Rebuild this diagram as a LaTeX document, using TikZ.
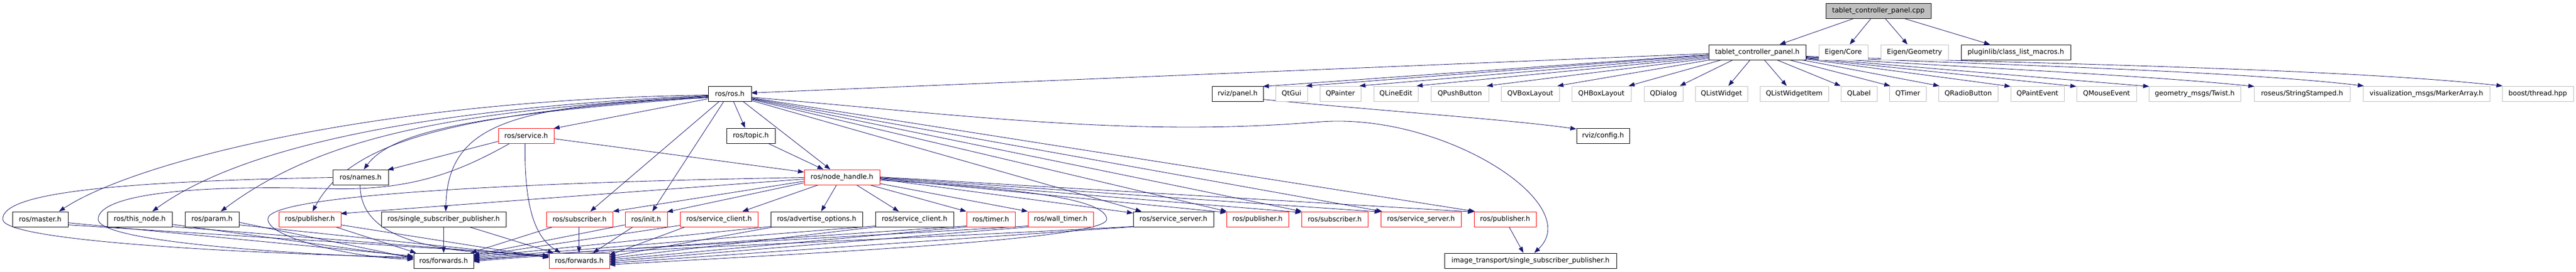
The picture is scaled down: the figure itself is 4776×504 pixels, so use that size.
\documentclass[tikz,border=0pt]{standalone}
\usepackage{fontspec}
\setmainfont{DejaVu Sans}
\usetikzlibrary{arrows.meta}
\definecolor{eb}{RGB}{25,25,112}
\definecolor{gb}{RGB}{191,191,191}
\pgfdeclarelayer{edges}
\pgfsetlayers{edges,main}
\begin{document}
\begin{tikzpicture}[x=1pt,y=-1pt,
  box/.style={draw=black, line width=1pt, rectangle, minimum height=28pt, inner sep=0pt, fill=white, font=\fontsize{12.6}{15}\selectfont},
  rbox/.style={box, draw=red},
  gbox/.style={box, draw=gb},
  rootbox/.style={box, fill=gb},
  dep/.style={draw=eb, line width=0.85pt, -{Triangle[length=11pt,width=8pt]}},
]
\useasboundingbox (0,0) rectangle (4776,504);
% row 0
\node[rootbox, minimum width=195pt] (cpp) at (3482.5,20) {tablet\_controller\_panel.cpp};
% row 1
\node[box, minimum width=180pt] (tch) at (3258,97) {tablet\_controller\_panel.h};
\node[gbox, minimum width=91pt] (ecore) at (3417.5,97) {Eigen/Core};
\node[gbox, minimum width=125pt] (egeom) at (3549.5,97) {Eigen/Geometry};
\node[box, minimum width=203pt] (plugin) at (3737.5,97) {pluginlib/class\_list\_macros.h};
% row 2
\node[box, minimum width=80pt] (rosh) at (1353,174) {ros/ros.h};
\node[box, minimum width=95pt] (panel) at (2294.5,174) {rviz/panel.h};
\node[gbox, minimum width=59pt] (qtgui) at (2394.5,174) {QtGui};
\node[gbox, minimum width=76pt] (qpainter) at (2485,174) {QPainter};
\node[gbox, minimum width=82pt] (qlineedit) at (2588,174) {QLineEdit};
\node[gbox, minimum width=107pt] (qpush) at (2706.5,174) {QPushButton};
\node[gbox, minimum width=108pt] (qvbox) at (2837,174) {QVBoxLayout};
\node[gbox, minimum width=110pt] (qhbox) at (2969,174) {QHBoxLayout};
\node[gbox, minimum width=72pt] (qdialog) at (3084,174) {QDialog};
\node[gbox, minimum width=97pt] (qlistw) at (3191.5,174) {QListWidget};
\node[gbox, minimum width=127pt] (qlistwi) at (3326.5,174) {QListWidgetItem};
\node[gbox, minimum width=67pt] (qlabel) at (3446.5,174) {QLabel};
\node[gbox, minimum width=68pt] (qtimer) at (3537,174) {QTimer};
\node[gbox, minimum width=110pt] (qradio) at (3649,174) {QRadioButton};
\node[gbox, minimum width=99pt] (qpaint) at (3777.5,174) {QPaintEvent};
\node[gbox, minimum width=111pt] (qmouse) at (3905.5,174) {QMouseEvent};
\node[gbox, minimum width=170pt] (twist) at (4069,174) {geometry\_msgs/Twist.h};
\node[gbox, minimum width=178pt] (strst) at (4268,174) {roseus/StringStamped.h};
\node[gbox, minimum width=235pt] (marker) at (4498.5,174) {visualization\_msgs/MarkerArray.h};
\node[gbox, minimum width=132pt] (boost) at (4705,174) {boost/thread.hpp};
% row 3
\node[rbox, minimum width=103pt] (service) at (975.5,252) {ros/service.h};
\node[box, minimum width=90pt] (topic) at (1392,252) {ros/topic.h};
\node[box, minimum width=98pt] (config) at (2972,252) {rviz/config.h};
% row 4
\node[box, minimum width=103pt] (names) at (668.5,329) {ros/names.h};
\node[rbox, minimum width=140pt] (nh) at (1561,329) {ros/node\_handle.h};
% row 5
\node[box, minimum width=103pt] (master) at (74.5,407) {ros/master.h};
\node[box, minimum width=120pt] (thisnode) at (259,407) {ros/this\_node.h};
\node[box, minimum width=100pt] (param) at (393,407) {ros/param.h};
\node[rbox, minimum width=115pt] (pub1) at (574.5,407) {ros/publisher.h};
\node[box, minimum width=231pt] (ssp) at (822.5,407) {ros/single\_subscriber\_publisher.h};
\node[rbox, minimum width=123pt] (sub1) at (1074.5,407) {ros/subscriber.h};
\node[rbox, minimum width=78pt] (init) at (1198,407) {ros/init.h};
\node[rbox, minimum width=144pt] (scr) at (1333,407) {ros/service\_client.h};
\node[box, minimum width=170pt] (adv) at (1514,407) {ros/advertise\_options.h};
\node[box, minimum width=145pt] (scb) at (1695.5,407) {ros/service\_client.h};
\node[rbox, minimum width=90pt] (timer) at (1837,407) {ros/timer.h};
\node[rbox, minimum width=121pt] (wtimer) at (1966.5,407) {ros/wall\_timer.h};
\node[box, minimum width=149pt] (ssb) at (2175.5,407) {ros/service\_server.h};
\node[rbox, minimum width=115pt] (pub2) at (2331.5,407) {ros/publisher.h};
\node[rbox, minimum width=123pt] (sub2) at (2474.5,407) {ros/subscriber.h};
\node[rbox, minimum width=149pt] (ssr) at (2634.5,407) {ros/service\_server.h};
\node[rbox, minimum width=115pt] (pub3) at (2790.5,407) {ros/publisher.h};
% row 6
\node[box, minimum width=111pt] (fwdB) at (822.5,484) {ros/forwards.h};
\node[rbox, minimum width=112pt] (fwdR) at (1074,484) {ros/forwards.h};
\node[box, minimum width=319pt] (itssp) at (2837.5,484) {image\_transport/single\_subscriber\_publisher.h};

\begin{pgfonlayer}{edges}
% cpp
\draw[dep] ([shift={(55,28)}]cpp.north west) -- ([shift={(132,0)}]tch.north west);
\draw[dep] ([shift={(85,28)}]cpp.north west) -- ([shift={(58,0)}]ecore.north west);
\draw[dep] ([shift={(110,28)}]cpp.north west) -- ([shift={(50,0)}]egeom.north west);
\draw[dep] ([shift={(143,28)}]cpp.north west) -- ([shift={(54,0)}]plugin.north west);
% tablet_controller_panel.h
\draw[dep] ([shift={(0,17)}]tch.north west) -- ([shift={(80,13)}]rosh.north west);
\draw[dep] ([shift={(0,19)}]tch.north west) -- ([shift={(95,1)}]panel.north west);
\draw[dep] ([shift={(0,20)}]tch.north west) -- ([shift={(57,0)}]qtgui.north west);
\draw[dep] ([shift={(0,22)}]tch.north west) -- ([shift={(74,0)}]qpainter.north west);
\draw[dep] ([shift={(0,24)}]tch.north west) -- ([shift={(80,0)}]qlineedit.north west);
\draw[dep] ([shift={(0,26)}]tch.north west) -- ([shift={(104,0)}]qpush.north west);
\draw[dep] ([shift={(7,28)}]tch.north west) -- ([shift={(105,0)}]qvbox.north west);
\draw[dep] ([shift={(27,28)}]tch.north west) -- ([shift={(106,0)}]qhbox.north west);
\draw[dep] ([shift={(47,28)}]tch.north west) -- ([shift={(67,0)}]qdialog.north west);
\draw[dep] ([shift={(78,28)}]tch.north west) -- ([shift={(62,0)}]qlistw.north west);
\draw[dep] ([shift={(103,28)}]tch.north west) -- ([shift={(50,0)}]qlistwi.north west);
\draw[dep] ([shift={(125,28)}]tch.north west) -- ([shift={(0,0)}]qlabel.north west);
\draw[dep] ([shift={(147,28)}]tch.north west) -- ([shift={(2,0)}]qtimer.north west);
\draw[dep] ([shift={(169,28)}]tch.north west) -- ([shift={(2,0)}]qradio.north west);
\draw[dep] ([shift={(180,27)}]tch.north west) -- ([shift={(0,1)}]qpaint.north west);
\draw[dep] ([shift={(180,26)}]tch.north west) -- ([shift={(0,1)}]qmouse.north west);
\draw[dep] ([shift={(180,25)}]tch.north west) -- ([shift={(1,1)}]twist.north west);
\draw[dep] ([shift={(180,24)}]tch.north west) .. controls (3650,125) and (3980,140) .. ([shift={(1,1)}]strst.north west);
\draw[dep] ([shift={(180,23)}]tch.north west) .. controls (3700,120) and (4150,132) .. ([shift={(2,0)}]marker.north west);
\draw[dep] ([shift={(180,22)}]tch.north west) .. controls (3800,118) and (4350,128) .. ([shift={(1,0)}]boost.north west);
% rviz/panel.h
\draw[dep] ([shift={(95,25)}]panel.north west) .. controls (2550,205) and (2800,222) .. ([shift={(0,2)}]config.north west);
% ros/ros.h to the left
\draw[dep] ([shift={(0,17)}]rosh.north west) .. controls (700,185) and (250,300) .. ([shift={(87,0)}]master.north west);
\draw[dep] ([shift={(0,18)}]rosh.north west) .. controls (800,200) and (450,270) .. ([shift={(84,0)}]thisnode.north west);
\draw[dep] ([shift={(0,19)}]rosh.north west) .. controls (850,205) and (600,250) .. ([shift={(67,0)}]param.north west);
\draw[dep] ([shift={(0,20)}]rosh.north west) .. controls (850,210) and (650,260) .. ([shift={(63,0)}]pub1.north west);
\draw[dep] ([shift={(0,21)}]rosh.north west) .. controls (900,212) and (730,240) .. ([shift={(58,0)}]names.north west);
\draw[dep] ([shift={(0,22)}]rosh.north west) .. controls (950,195) and (830,230) .. ([shift={(120,0)}]ssp.north west);
\draw[dep] ([shift={(0,24)}]rosh.north west) -- ([shift={(103,1)}]service.north west);
% ros/ros.h downwards
\draw[dep] ([shift={(22,28)}]rosh.north west) -- ([shift={(82,0)}]sub1.north west);
\draw[dep] ([shift={(30,28)}]rosh.north west) -- ([shift={(51,0)}]init.north west);
\draw[dep] ([shift={(47,28)}]rosh.north west) -- ([shift={(35,0)}]topic.north west);
\draw[dep] ([shift={(64,28)}]rosh.north west) -- ([shift={(49,0)}]nh.north west);
% ros/ros.h to the right
\draw[dep] ([shift={(80,21)}]rosh.north west) .. controls (1800,215) and (2100,255) .. (2450,226) .. controls (2680,210) and (2940,380) .. ([shift={(167,0)}]itssp.north west);
\draw[dep] ([shift={(80,22)}]rosh.north west) -- ([shift={(2,0)}]pub3.north west);
\draw[dep] ([shift={(80,23)}]rosh.north west) -- ([shift={(3,0)}]ssr.north west);
\draw[dep] ([shift={(80,24)}]rosh.north west) -- ([shift={(1,0)}]sub2.north west);
\draw[dep] ([shift={(80,25)}]rosh.north west) -- ([shift={(1,0)}]pub2.north west);
\draw[dep] ([shift={(80,27)}]rosh.north west) -- ([shift={(16,0)}]ssb.north west);
% topic, service
\draw[dep] ([shift={(76,28)}]topic.north west) -- ([shift={(36,0)}]nh.north west);
\draw[dep] ([shift={(103,20)}]service.north west) -- ([shift={(0,5)}]nh.north west);
\draw[dep] ([shift={(0,25)}]service.north west) -- ([shift={(102,1)}]names.north west);
\draw[dep] ([shift={(23,28)}]service.north west) .. controls (850,320) and (760,356) .. (600,350) .. controls (300,342) and (182,370) .. (182,407) .. controls (182,450) and (550,472) .. ([shift={(0,10)}]fwdB.north west);
\draw[dep] ([shift={(50,28)}]service.north west) .. controls (972,380) and (990,440) .. ([shift={(22,0)}]fwdR.north west);
% names
\draw[dep] ([shift={(0,15)}]names.north west) .. controls (150,338) and (5,365) .. (5,407) .. controls (5,450) and (500,472) .. ([shift={(0,8)}]fwdB.north west);
\draw[dep] ([shift={(51,28)}]names.north west) .. controls (668,430) and (760,470) .. ([shift={(0,6)}]fwdR.north west);
% node_handle to the right
\draw[dep] ([shift={(140,14)}]nh.north west) -- ([shift={(0,1)}]pub3.north west);
\draw[dep] ([shift={(140,15)}]nh.north west) -- ([shift={(0,1)}]ssr.north west);
\draw[dep] ([shift={(140,16)}]nh.north west) -- ([shift={(0,2)}]sub2.north west);
\draw[dep] ([shift={(140,17)}]nh.north west) -- ([shift={(0,2)}]pub2.north west);
\draw[dep] ([shift={(140,18)}]nh.north west) -- ([shift={(0,3)}]ssb.north west);
\draw[dep] ([shift={(140,20)}]nh.north west) .. controls (1900,350) and (2050,370) .. (2052,407) .. controls (2052,445) and (1500,470) .. ([shift={(112,22)}]fwdR.north west);
% node_handle to the left and down
\draw[dep] ([shift={(0,15)}]nh.north west) .. controls (1000,338) and (505,360) .. (497,405) .. controls (490,440) and (650,478) .. ([shift={(0,12)}]fwdB.north west);
\draw[dep] ([shift={(0,18)}]nh.north west) -- ([shift={(115,4)}]pub1.north west);
\draw[dep] ([shift={(0,22)}]nh.north west) -- ([shift={(124,0)}]sub1.north west);
\draw[dep] ([shift={(0,25)}]nh.north west) -- ([shift={(78,1)}]init.north west);
\draw[dep] ([shift={(29,28)}]nh.north west) -- ([shift={(116,0)}]scr.north west);
\draw[dep] ([shift={(61,28)}]nh.north west) -- ([shift={(94,0)}]adv.north west);
\draw[dep] ([shift={(96,28)}]nh.north west) -- ([shift={(44,0)}]scb.north west);
\draw[dep] ([shift={(119,28)}]nh.north west) -- ([shift={(0,0)}]timer.north west);
\draw[dep] ([shift={(139,26)}]nh.north west) -- ([shift={(0,0)}]wtimer.north west);
% row 5 to forwards
\draw[dep] ([shift={(103,21)}]master.north west) -- ([shift={(0,6)}]fwdB.north west);
\draw[dep] ([shift={(103,25)}]master.north west) -- ([shift={(0,5)}]fwdR.north west);
\draw[dep] ([shift={(120,24)}]thisnode.north west) -- ([shift={(0,8)}]fwdB.north west);
\draw[dep] ([shift={(118,28)}]thisnode.north west) -- ([shift={(0,7)}]fwdR.north west);
\draw[dep] ([shift={(100,20)}]param.north west) -- ([shift={(0,10)}]fwdB.north west);
\draw[dep] ([shift={(100,25)}]param.north west) -- ([shift={(0,8)}]fwdR.north west);
\draw[dep] ([shift={(103,28)}]pub1.north west) -- ([shift={(5,0)}]fwdB.north west);
\draw[dep] ([shift={(115,25)}]pub1.north west) -- ([shift={(0,9)}]fwdR.north west);
\draw[dep] ([shift={(116,28)}]ssp.north west) -- ([shift={(56,0)}]fwdB.north west);
\draw[dep] ([shift={(161,28)}]ssp.north west) -- ([shift={(9,0)}]fwdR.north west);
\draw[dep] ([shift={(15,28)}]sub1.north west) -- ([shift={(106,0)}]fwdB.north west);
\draw[dep] ([shift={(61,28)}]sub1.north west) -- ([shift={(56,0)}]fwdR.north west);
\draw[dep] ([shift={(0,25)}]init.north west) -- ([shift={(111,4)}]fwdB.north west);
\draw[dep] ([shift={(16,28)}]init.north west) -- ([shift={(82,0)}]fwdR.north west);
\draw[dep] ([shift={(0,26)}]scr.north west) -- ([shift={(111,6)}]fwdB.north west);
\draw[dep] ([shift={(12,28)}]scr.north west) -- ([shift={(112,4)}]fwdR.north west);
\draw[dep] ([shift={(0,28)}]adv.north west) -- ([shift={(111,8)}]fwdB.north west);
\draw[dep] ([shift={(10,28)}]adv.north west) -- ([shift={(112,7)}]fwdR.north west);
\draw[dep] ([shift={(0,27)}]scb.north west) -- ([shift={(111,10)}]fwdB.north west);
\draw[dep] ([shift={(8,28)}]scb.north west) -- ([shift={(112,10)}]fwdR.north west);
\draw[dep] ([shift={(0,27)}]timer.north west) -- ([shift={(111,12)}]fwdB.north west);
\draw[dep] ([shift={(8,28)}]timer.north west) -- ([shift={(112,13)}]fwdR.north west);
\draw[dep] ([shift={(0,27)}]wtimer.north west) .. controls (1500,445) and (1100,462) .. ([shift={(111,14)}]fwdB.north west);
\draw[dep] ([shift={(12,28)}]wtimer.north west) -- ([shift={(112,16)}]fwdR.north west);
\draw[dep] ([shift={(0,28)}]ssb.north west) .. controls (1600,448) and (1100,464) .. ([shift={(111,16)}]fwdB.north west);
\draw[dep] ([shift={(8,28)}]ssb.north west) -- ([shift={(112,19)}]fwdR.north west);
% publisher to image_transport
\draw[dep] ([shift={(65,28)}]pub3.north west) -- ([shift={(147,0)}]itssp.north west);
\end{pgfonlayer}
\end{tikzpicture}
\end{document}
